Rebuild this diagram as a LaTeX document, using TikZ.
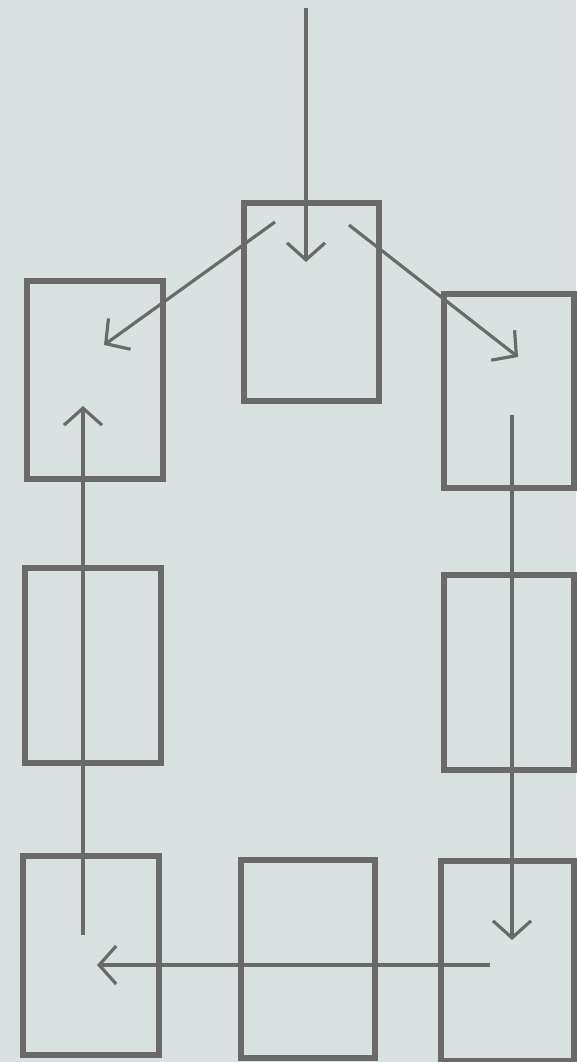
\documentclass[tikz,border=0pt]{standalone}
\usetikzlibrary{arrows.meta,fit}
\definecolor{bg}{HTML}{DAE2E1}
\definecolor{ink}{HTML}{6A6A6A}
\tikzset{
  cell/.style={draw=ink, line width=6.5pt, rectangle, inner sep=0pt},
  flow/.style={draw=ink, line width=3.2pt, -{Straight Barb[length=17pt,width=38pt,line width=3.2pt]}},
}
\begin{document}
\begin{tikzpicture}[x=1pt,y=-1pt]
\fill[bg] (0,0) rectangle (576,1062);
\useasboundingbox (0,0) rectangle (576,1062);
\node[cell, fit={(244,203) (379,401)}] (tc) {};
\node[cell, fit={(27,281) (163,479)}] (tl) {};
\node[cell, fit={(444,294) (574,488)}] (tr) {};
\node[cell, fit={(25,568) (161,763)}] (ml) {};
\node[cell, fit={(444,575) (574,770)}] (mr) {};
\node[cell, fit={(23,856) (159,1055)}] (bl) {};
\node[cell, fit={(241,860) (375,1058)}] (bc) {};
\node[cell, fit={(441,861) (574,1061)}] (br) {};
\coordinate (s0) at (306,8);
\coordinate (e0) at (306,262);
\coordinate (s1) at (275,222);
\coordinate (e1) at (104,345);
\coordinate (s2) at (349,225);
\coordinate (e2) at (518,357);
\coordinate (s3) at (512,415);
\coordinate (e3) at (512,940);
\coordinate (s4) at (490,965);
\coordinate (e4) at (97,965);
\coordinate (s5) at (83,935);
\coordinate (e5) at (83,406);
\draw[flow] (s0) -- (e0);
\draw[flow] (s1) -- (e1);
\draw[flow] (s2) -- (e2);
\draw[flow] (s3) -- (e3);
\draw[flow] (s4) -- (e4);
\draw[flow] (s5) -- (e5);
\end{tikzpicture}
\end{document}
